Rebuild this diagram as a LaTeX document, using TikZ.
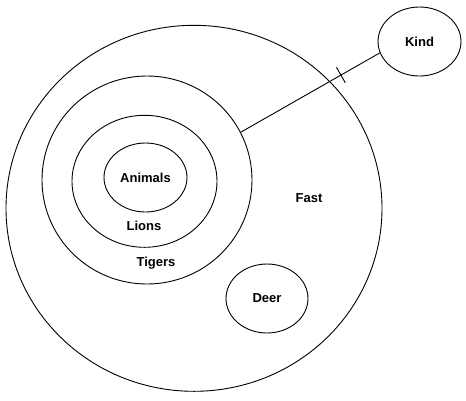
\documentclass[tikz,border=0pt]{standalone}
\usepackage{fontspec}
\setmainfont{Liberation Sans}
\usetikzlibrary{shapes.geometric}
\begin{document}
\begin{tikzpicture}[x=1pt,y=-1pt,
  ring/.style={ellipse,draw,line width=0.9pt,inner sep=0pt},
  lbl/.style={font=\fontsize{13}{15}\selectfont\bfseries,inner sep=0pt},
  conn/.style={line width=0.9pt}]
\useasboundingbox (0,0) rectangle (466,400);
\node[ring,minimum width=376pt,minimum height=366pt] (outer) at (194,208.3) {};
\node[ring,minimum width=210pt,minimum height=208pt] (tigers) at (147,180) {};
\node[ring,minimum width=145pt,minimum height=132pt] (lions) at (144.5,181.3) {};
\node[ring,minimum width=83pt,minimum height=69pt,lbl] (animals) at (145.5,177.5) {Animals};
\node[ring,minimum width=82pt,minimum height=69pt,lbl] (deer) at (267,298.5) {Deer};
\node[ring,minimum width=83pt,minimum height=69pt,lbl] (kind) at (419.5,41.5) {Kind};
\node[lbl] (lionslbl) at (144,226) {Lions};
\node[lbl] (tigerslbl) at (156,263) {Tigers};
\node[lbl] (fastlbl) at (309,198) {Fast};
\draw[conn] (tigers.27.3) -- (kind.196)
  node[pos=0.72,sloped,minimum height=17pt,minimum width=0pt,inner sep=0pt] (tick) {};
\draw[conn] (tick.north) -- (tick.south);
\end{tikzpicture}
\end{document}
